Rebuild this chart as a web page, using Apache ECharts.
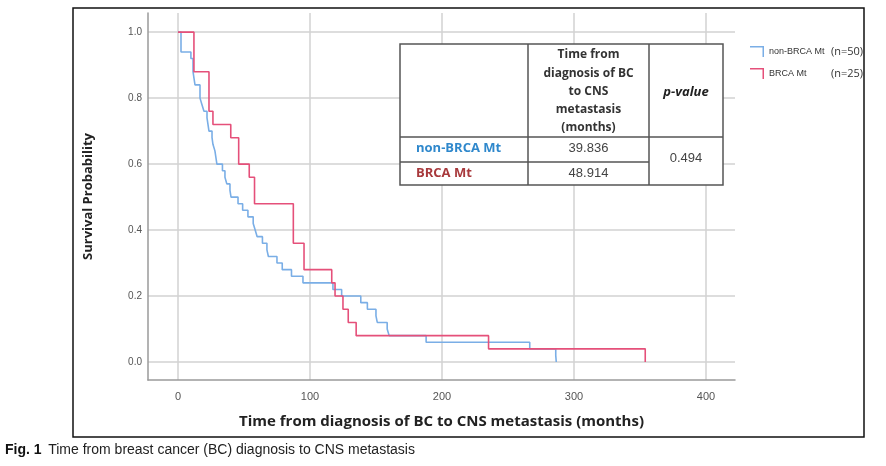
<!DOCTYPE html>
<html>
<head>
<meta charset="utf-8">
<script src="https://cdn.jsdelivr.net/npm/echarts@6/dist/echarts.min.js"></script>
<style>html,body{margin:0;padding:0;background:#fff}#c{width:886px;height:466px}</style>
</head>
<body>
<div id="c"></div>
<script>
// ---- data ----
const seriesNames = ['non-BRCA Mt', 'BRCA Mt'];
const seriesN = ['(n=50)', '(n=25)'];
const nonBrcaTimes = [0, 2.3, 9.8, 11.4, 12.9, 16.7, 18.2, 19.7, 22, 23.5, 25.8, 26.5, 28, 29.5, 33.7, 35.6, 37, 39.4, 40.2, 45.5, 49, 53, 57, 58.5, 60, 64, 67.4, 68.5, 75, 79, 86, 94.7, 117.4, 124, 138.5, 143.5, 150, 151, 158.5, 160, 188, 266.5, 286.2, 286.6];
const nonBrcaSurv  = [1.0, 0.94, 0.92, 0.88, 0.84, 0.80, 0.78, 0.76, 0.74, 0.70, 0.68, 0.66, 0.64, 0.60, 0.58, 0.56, 0.54, 0.52, 0.50, 0.48, 0.46, 0.44, 0.42, 0.40, 0.38, 0.36, 0.34, 0.32, 0.30, 0.28, 0.26, 0.24, 0.22, 0.20, 0.18, 0.16, 0.14, 0.12, 0.10, 0.08, 0.06, 0.04, 0.02, 0.0];
const brcaTimes = [0, 12.1, 23.5, 26.5, 40, 46, 54, 58, 87.4, 95.5, 116.5, 119, 125, 129, 135, 235.3, 354];
const brcaSurv  = [1.0, 0.88, 0.76, 0.72, 0.68, 0.60, 0.56, 0.48, 0.36, 0.28, 0.24, 0.20, 0.16, 0.12, 0.08, 0.04, 0.0];
const xTicks = [0, 100, 200, 300, 400];
const yTicks = [0, 0.2, 0.4, 0.6, 0.8, 1.0];
const tableHeader = ['Time from', 'diagnosis of BC', 'to CNS', 'metastasis', '(months)'];
const tablePHeader = 'p-value';
const tableGroups = ['non-BRCA Mt', 'BRCA Mt'];
const tableMedians = ['39.836', '48.914'];
const tablePValue = '0.494';
const xTitle = 'Time from diagnosis of BC to CNS metastasis (months)';
const yTitle = 'Survival Probability';
const captionBold = 'Fig. 1';
const captionText = 'Time from breast cancer (BC) diagnosis to CNS metastasis';

const blue = '#7aaee6', red = '#e5507a';
const zip = (a, b) => a.map((v, i) => [v, b[i]]);

// table graphics
const TZ = 200;
const tx = [400, 528, 649, 723], ty = [44, 137, 162, 185];
const lineStyle = { stroke: '#555', lineWidth: 1.5 };
const tableEls = [
  { type: 'rect', z: TZ, shape: { x: tx[0], y: ty[0], width: tx[3] - tx[0], height: ty[3] - ty[0] }, style: { fill: '#fff', stroke: '#555', lineWidth: 1.5 } },
  { type: 'line', z: TZ + 1, shape: { x1: tx[1], y1: ty[0], x2: tx[1], y2: ty[3] }, style: lineStyle },
  { type: 'line', z: TZ + 1, shape: { x1: tx[2], y1: ty[0], x2: tx[2], y2: ty[3] }, style: lineStyle },
  { type: 'line', z: TZ + 1, shape: { x1: tx[0], y1: ty[1], x2: tx[3], y2: ty[1] }, style: lineStyle },
  { type: 'line', z: TZ + 1, shape: { x1: tx[0], y1: ty[2], x2: tx[2], y2: ty[2] }, style: lineStyle }
];
const hdrFont = 'bold 12px "Open Sans", sans-serif';
tableHeader.forEach((t, i) => tableEls.push({ type: 'text', z: TZ + 2, style: { text: t, x: (tx[1] + tx[2]) / 2, y: 55 + i * 18.2, align: 'center', verticalAlign: 'middle', font: hdrFont, fill: '#333' } }));
tableEls.push({ type: 'text', z: TZ + 2, style: { text: tablePHeader, x: (tx[2] + tx[3]) / 2, y: 92, align: 'center', verticalAlign: 'middle', font: 'italic bold 13px "Open Sans", sans-serif', fill: '#222' } });
const grpColors = ['#2f88cc', '#a8393c'];
tableGroups.forEach((g, i) => {
  const yy = i === 0 ? 148 : 173;
  tableEls.push({ type: 'text', z: TZ + 2, style: { text: g, x: 416, y: yy, align: 'left', verticalAlign: 'middle', font: 'bold 13px "Open Sans", sans-serif', fill: grpColors[i] } });
  tableEls.push({ type: 'text', z: TZ + 2, style: { text: tableMedians[i], x: (tx[1] + tx[2]) / 2, y: yy, align: 'center', verticalAlign: 'middle', font: '13px "Liberation Sans", sans-serif', fill: '#444' } });
});
tableEls.push({ type: 'text', z: TZ + 2, style: { text: tablePValue, x: (tx[2] + tx[3]) / 2, y: 158, align: 'center', verticalAlign: 'middle', font: '13px "Liberation Sans", sans-serif', fill: '#444' } });

const chart = echarts.init(document.getElementById('c'), null, { renderer: 'canvas' });
const option = {
  backgroundColor: '#fff',
  animation: false,
  grid: { left: 148, right: 151, top: 13, bottom: 86 },
  legend: {
    orient: 'vertical', left: 745, top: 41, itemGap: 11, itemWidth: 14, itemHeight: 11,
    icon: 'path://M0,0H14V11H12.5V1.5H0Z',
    data: seriesNames,
    formatter: n => '{a|' + n + '}{b|' + seriesN[seriesNames.indexOf(n)] + '}',
    textStyle: {
      rich: {
        a: { fontFamily: '"Liberation Sans Narrow", "Liberation Sans", sans-serif', fontSize: 9, color: '#333', width: 62 },
        b: { fontFamily: '"Open Sans", sans-serif', fontSize: 11, color: '#333' }
      }
    }
  },
  xAxis: {
    type: 'value', min: -22.7, max: 422,
    name: xTitle, nameLocation: 'middle', nameGap: 34,
    nameTextStyle: { fontFamily: '"Open Sans", sans-serif', fontWeight: 'bold', fontSize: 15, color: '#222' },
    axisLine: { show: true, onZero: false, lineStyle: { color: '#9a9a9a', width: 1.5 } },
    axisTick: { show: false, customValues: xTicks },
    axisLabel: { customValues: xTicks, margin: 11, fontFamily: '"Liberation Sans Narrow", "Liberation Sans", sans-serif', fontSize: 11, color: '#555' },
    splitLine: { show: true, lineStyle: { color: '#d2d2d2', width: 1.5 } }
  },
  yAxis: {
    type: 'value', min: -0.0545, max: 1.058,
    name: yTitle, nameLocation: 'middle', nameGap: 53, nameRotate: 90,
    nameTextStyle: { fontFamily: '"Open Sans", sans-serif', fontWeight: 'bold', fontSize: 13, color: '#222' },
    axisLine: { show: true, onZero: false, lineStyle: { color: '#9a9a9a', width: 1.5 } },
    axisTick: { show: false, customValues: yTicks },
    axisLabel: { customValues: yTicks, margin: 6, formatter: v => v.toFixed(1), fontFamily: '"Liberation Sans Narrow", "Liberation Sans", sans-serif', fontSize: 10, color: '#555' },
    splitLine: { show: true, lineStyle: { color: '#d2d2d2', width: 1.5 } }
  },
  series: [
    { name: seriesNames[0], type: 'line', step: 'end', showSymbol: false, data: zip(nonBrcaTimes, nonBrcaSurv), lineStyle: { color: blue, width: 1.6 }, itemStyle: { color: blue } },
    { name: seriesNames[1], type: 'line', step: 'end', showSymbol: false, data: zip(brcaTimes, brcaSurv), lineStyle: { color: red, width: 1.6 }, itemStyle: { color: red } }
  ],
  graphic: [
    { type: 'rect', z: -1, silent: true, shape: { x: 73, y: 8, width: 791, height: 429 }, style: { fill: 'none', stroke: '#111', lineWidth: 1.5 } },
    { type: 'group', z: TZ, children: tableEls },
    { type: 'text', left: 5, top: 443, style: {
      text: '{b|' + captionBold + '}  {n|' + captionText + '}',
      rich: {
        b: { font: 'bold 14px "Liberation Sans Narrow", "Liberation Sans", sans-serif', fill: '#111' },
        n: { font: '14px "Liberation Sans Narrow", "Liberation Sans", sans-serif', fill: '#222' }
      } } }
  ]
};
chart.setOption(option);
</script>
</body>
</html>
